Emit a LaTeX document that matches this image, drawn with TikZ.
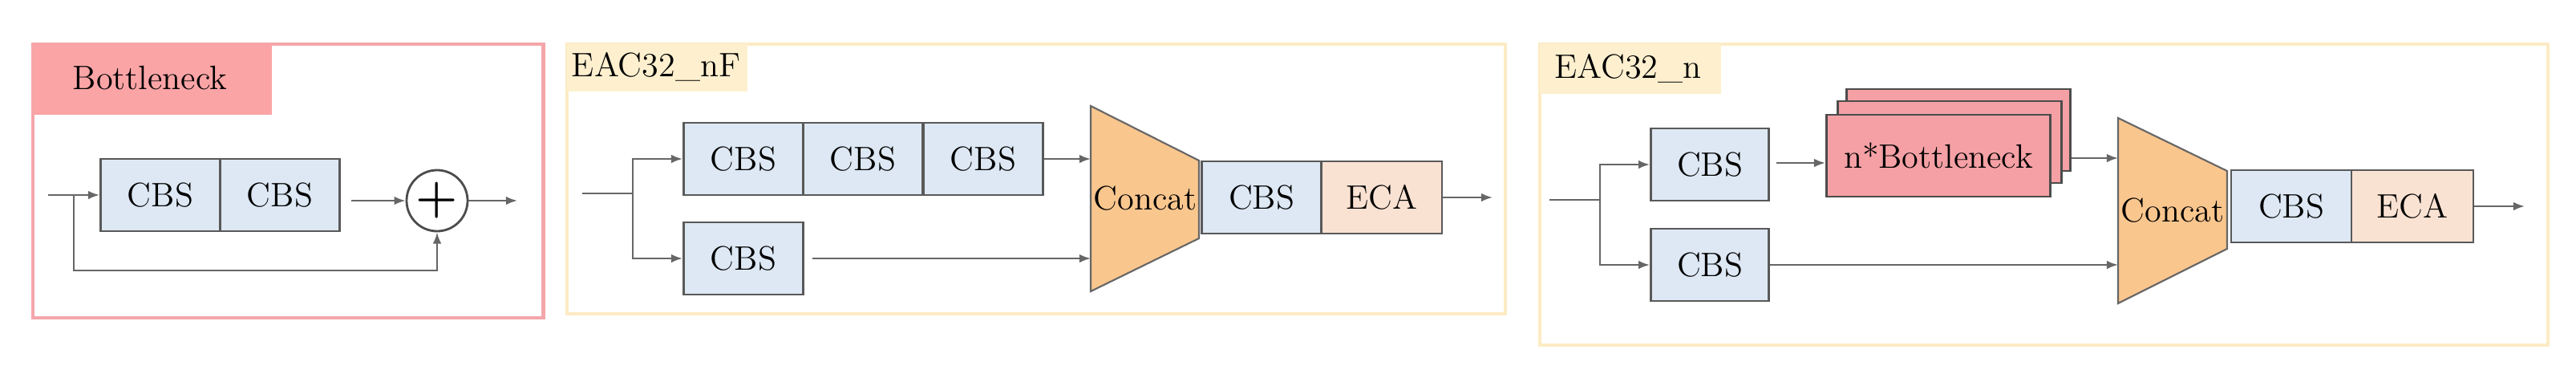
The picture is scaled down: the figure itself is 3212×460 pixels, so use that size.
\documentclass[tikz,border=0pt]{standalone}
\usetikzlibrary{arrows.meta,shapes.geometric}
\definecolor{cbsblue}{HTML}{DDE8F4}
\definecolor{pinkfr}{HTML}{F4A6AA}
\definecolor{pinkhd}{HTML}{FBA4A6}
\definecolor{yelfr}{HTML}{FCEBC4}
\definecolor{yelhd}{HTML}{FEF0CF}
\definecolor{concatc}{HTML}{F9C68E}
\definecolor{ecac}{HTML}{FAE2D3}
\definecolor{btl}{HTML}{F4A0A4}
\begin{document}
\begin{tikzpicture}[x=0.01cm,y=-0.01cm,
  every node/.style={font=\fontsize{12}{14}\selectfont, inner sep=0pt},
  box/.style={draw=black!65, line width=0.8pt, rectangle, minimum height=0.9cm},
  cbs/.style={box, fill=cbsblue, minimum width=1.49cm},
  eca/.style={box, fill=ecac, minimum width=1.5cm},
  bn/.style={draw=black!70, line width=0.8pt, fill=btl, minimum width=2.79cm, minimum height=1.02cm},
  conn/.style={draw=black!60, line width=0.6pt},
  arr/.style={conn, -{Latex[length=4pt,width=3pt]}},
  hdr/.style={anchor=north west, minimum height=0.6cm}]
\useasboundingbox (0,0) rectangle (3212,460);
% ---------- Bottleneck ----------
\node[draw=pinkfr, line width=1.2pt, anchor=north west, minimum width=6.36cm, minimum height=3.41cm] (f1) at (39,53) {};
\node[fill=pinkhd, anchor=north west, minimum width=2.98cm, minimum height=0.88cm] (h1) at (40,54) {};
\node at (187,97) {Bottleneck};
\node[ellipse, draw=black!70, line width=0.8pt, minimum width=0.76cm, minimum height=0.76cm] (plus) at (545,250) {\fontsize{17}{17}\selectfont\bfseries +};
\node[cbs] (b1) at (200,243) {CBS};
\node[cbs] (b2) at (349,243) {CBS};
\coordinate (in1) at (60,243);
\coordinate (br1) at (92,243);
\coordinate (out1) at (645,250);
\draw[arr] (in1) -- (b1);
\draw[arr] (b2.east |- plus) ++(13,0) -- (plus);
\draw[arr] (plus) -- (out1);
\draw[arr] (br1) -- (92,337) -| (plus.south);
% ---------- EAC32_nF ----------
\node[draw=yelfr, line width=1.2pt, anchor=north west, minimum width=11.69cm, minimum height=3.36cm] (f2) at (705,53) {};
\node[fill=yelhd, anchor=north west, minimum width=2.25cm, minimum height=0.59cm] (h2) at (706,54) {};
\node at (818,83) {EAC32\_nF};
\node[cbs] (c1) at (927,198) {CBS};
\node[cbs] (c2) at (1076,198) {CBS};
\node[cbs] (c3) at (1226,198) {CBS};
\node[cbs] (c4) at (927,322) {CBS};
\coordinate (k1a) at (1360,132); \coordinate (k1b) at (1495,200);
\coordinate (k1c) at (1495,297); \coordinate (k1d) at (1360,363);
\draw[black!60, line width=0.6pt, fill=concatc] (k1a) -- (k1b) -- (k1c) -- (k1d) -- cycle;
\node (k1) at (1428,247) {Concat};
\node[cbs] (c5) at (1573,246) {CBS};
\node[eca] (e1) at (1723,246) {ECA};
\coordinate (in2) at (726,241);
\coordinate (br2) at (789,241);
\coordinate (out2) at (1861,246);
\draw[conn] (in2) -- (br2);
\draw[arr] (br2) |- (c1);
\draw[arr] (br2) |- (c4);
\draw[arr] (c3) -- (1360,198);
\draw[arr] (c4.east) ++(10,0) -- (1360,322);
\draw[arr] (e1) -- (out2);
% ---------- EAC32_n ----------
\node[draw=yelfr, line width=1.2pt, anchor=north west, minimum width=12.56cm, minimum height=3.75cm] (f3) at (1918,53) {};
\node[fill=yelhd, anchor=north west, minimum width=2.26cm, minimum height=0.62cm] (h3) at (1919,54) {};
\node at (2030,85) {EAC32\_n};
\node[cbs, minimum width=1.47cm] (d1) at (2132,205) {CBS};
\node[cbs, minimum width=1.47cm] (d2) at (2132,330) {CBS};
\node[bn] (s3) at (2442,162) {};
\node[bn] (s2) at (2431,177) {};
\node[bn] (s1) at (2417,194) {n*Bottleneck};
\coordinate (k2a) at (2641,147); \coordinate (k2b) at (2777,213);
\coordinate (k2c) at (2777,310); \coordinate (k2d) at (2641,378);
\draw[black!60, line width=0.6pt, fill=concatc] (k2a) -- (k2b) -- (k2c) -- (k2d) -- cycle;
\node (k2) at (2709,262) {Concat};
\node[cbs, minimum width=1.5cm] (d3) at (2857,257) {CBS};
\node[eca, minimum width=1.52cm] (e2) at (3008,257) {ECA};
\coordinate (in3) at (1932,249);
\coordinate (br3) at (1995,249);
\coordinate (out3) at (3148,257);
\draw[conn] (in3) -- (br3);
\draw[arr] (br3) |- (d1);
\draw[arr] (br3) |- (d2);
\draw[arr] (d1.east) ++(8,-2) -- (s1.west |- 2278,203);
\draw[arr] (s3.east |- 2582,197) -- (2641,197);
\draw[arr] (d2) -- (2641,330);
\draw[arr] (e2) -- (out3);
\end{tikzpicture}
\end{document}
